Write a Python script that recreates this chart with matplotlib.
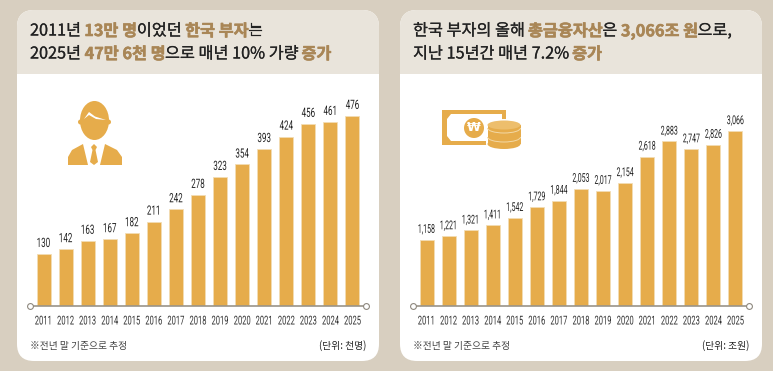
import matplotlib
matplotlib.use("Agg")
import matplotlib.pyplot as plt
import matplotlib.patheffects as pe
from matplotlib.patches import FancyBboxPatch, Rectangle, Ellipse, Polygon, Circle, Arc
from matplotlib.transforms import Affine2D

plt.rcParams["font.family"] = ["Noto Sans CJK KR", "DejaVu Sans"]

years = ["2011", "2012", "2013", "2014", "2015", "2016", "2017", "2018", "2019", "2020", "2021", "2022", "2023", "2024", "2025"]
rich_people = [130, 142, 163, 167, 182, 211, 242, 278, 323, 354, 393, 424, 456, 461, 476]
total_assets = [1158, 1221, 1321, 1411, 1542, 1729, 1844, 2053, 2017, 2154, 2618, 2883, 2747, 2826, 3066]

left_title = [
    [("2011년 ", 0), ("13만 명", 1), ("이었던 ", 0), ("한국 부자", 1), ("는", 0)],
    [("2025년 ", 0), ("47만 6천 명", 1), ("으로 매년 10% 가량 ", 0), ("증가", 1)],
]
right_title = [
    [("한국 부자의 올해 ", 0), ("총금융자산", 1), ("은 ", 0), ("3,066조 원", 1), ("으로,", 0)],
    [("지난 15년간 매년 7.2% ", 0), ("증가", 1)],
]
note = "※전년 말 기준으로 추정"
left_unit = "(단위: 천명)"
right_unit = "(단위: 조원)"

W, H = 773, 371
BG = "#D8CFC0"
HEAD = "#E9E4DB"
ACCENT = "#A98656"
BAR = "#E6AC4B"
DARK = "#222222"


class Narrow(pe.AbstractPathEffect):
    # 원본 숫자가 장체라서 글자 중심 기준으로 좁고 길게 그린다
    def __init__(self, sx, sy):
        super().__init__()
        self.sx = sx
        self.sy = sy

    def draw_path(self, renderer, gc, tpath, affine, rgbFace=None):
        xs = tpath.vertices[:, 0]
        cx = (xs.min() + xs.max()) / 2
        squeeze = Affine2D().translate(-cx, 0).scale(self.sx, self.sy).translate(cx, 0)
        renderer.draw_path(gc, tpath, squeeze + affine, rgbFace)


fig = plt.figure(figsize=(W / 100, H / 100), dpi=100, facecolor=BG)
bg = fig.add_axes([0, 0, 1, 1])
bg.set_xlim(0, W)
bg.set_ylim(H, 0)
bg.axis("off")


def card(x0, x1):
    box = FancyBboxPatch((x0 + 17, 10 + 17), x1 - x0 - 34, 351 - 34,
                         boxstyle="round,pad=17,rounding_size=17", fc="white", ec="none")
    bg.add_patch(box)
    head = Rectangle((x0, 10), x1 - x0, 64, fc=HEAD, ec="none")
    bg.add_patch(head)
    head.set_clip_path(box)


def title(x, y, parts):
    # 조각별로 폭을 재서 이어 붙인다
    r = fig.canvas.get_renderer()
    for s, hi in parts:
        color = ACCENT if hi else DARK
        t = bg.text(x, y, s, fontsize=11.7, va="center", ha="left", color=color,
                    fontweight="bold" if hi else "normal")
        t.set_path_effects([pe.withStroke(linewidth=0.4 if hi else 0.15, foreground=color)])
        x += t.get_window_extent(r).width


def bars(x0, x1, values, ymax, label_size, label_fx):
    ax = fig.add_axes([x0 / W, 1 - 305.7 / H, (x1 - x0) / W, 205.7 / H])
    ax.patch.set_alpha(0)
    idx = list(range(len(values)))
    b = ax.bar(idx, values, width=14 / 22.07, color=BAR, edgecolor="#F3DDB4", linewidth=0.6)
    ax.bar_label(b, labels=[f"{v:,}" for v in values], padding=3.5, fontsize=label_size, color=DARK,
                 family=["Roboto"], path_effects=[label_fx])
    ax.set_xlim(-13.5 / 22.07, 14 + 13.5 / 22.07)
    ax.set_ylim(0, ymax)
    ax.set_yticks([])
    ax.set_xticks(idx)
    ax.set_xticklabels(years, fontsize=6.8, color="#333333", family=["Roboto"],
                       path_effects=[Narrow(0.8, 1.3)])
    ax.tick_params(axis="x", length=0, pad=8.5)
    for s in ["top", "left", "right"]:
        ax.spines[s].set_visible(False)
    ax.spines["bottom"].set_color("#9A9489")
    ax.spines["bottom"].set_linewidth(1.2)
    ax.plot([0, 1], [0, 0], transform=ax.transAxes, ls="none", marker="o", ms=4.2,
            mfc="white", mec="#8E887E", mew=0.8, clip_on=False, zorder=5)
    return ax


def person():
    bg.add_patch(Polygon([(68, 165), (68, 157), (72, 150), (83, 144), (88, 165)], fc=BAR, ec="none"))
    bg.add_patch(Polygon([(122, 165), (122, 157), (117, 150), (105, 144), (100, 165)], fc=BAR, ec="none"))
    bg.add_patch(Polygon([(94, 144), (97, 147), (95.5, 150), (98, 162), (94, 165), (90, 162), (92.5, 150), (91, 147)],
                         fc=BAR, ec="none"))
    bg.add_patch(Ellipse((94.5, 120.5), 29, 39, fc=BAR, ec="none"))
    bg.add_patch(Circle((80.5, 122), 2.5, fc=BAR, ec="none"))
    bg.add_patch(Circle((108.5, 122), 2.5, fc=BAR, ec="none"))
    bg.add_patch(Polygon([(84, 119), (89, 112), (95, 116.5), (106, 120), (96, 119), (89, 115)], fc="white", ec="none"))


def money():
    bg.add_patch(Rectangle((442, 110), 64, 35, fc=BAR, ec="none"))
    bg.add_patch(Polygon([(447, 119), (451, 114), (502, 114), (502, 141), (451, 141), (447, 136)], fc="white", ec="none"))
    bg.add_patch(Circle((474, 128), 10, fc=BAR, ec="none"))
    bg.text(474, 127.5, "₩", color="white", fontsize=9, fontweight="bold", ha="center", va="center",
            family=["DejaVu Sans"])
    # 동전 더미
    bg.add_patch(Ellipse((504, 125), 36, 12, fc="white", ec="none"))
    bg.add_patch(Ellipse((504, 144), 36, 12, fc="white", ec="none"))
    bg.add_patch(Rectangle((486, 125), 36, 19, fc="white", ec="none"))
    bg.add_patch(Ellipse((504, 144), 33, 10, fc=BAR, ec="none"))
    bg.add_patch(Rectangle((487.5, 125), 33, 19, fc=BAR, ec="none"))
    for cy in (128, 137):
        bg.add_patch(Arc((504, cy), 33, 10, theta1=0, theta2=180, ec="#F3D9A6", lw=0.7))
    bg.add_patch(Ellipse((504, 125), 33, 9, fc="#EDBE6C", ec="none"))


card(17, 379)
card(400, 762)
fig.canvas.draw()
title(30, 31, left_title[0])
title(30, 54, left_title[1])
title(413, 31, right_title[0])
title(413, 54, right_title[1])

person()
money()
bars(30, 366, rich_people, 205.7 / 0.399, 7.4, Narrow(0.78, 1.25))
bars(413, 749, total_assets, 205.7 / 0.05698, 6.3, Narrow(0.8, 1.4))

for x, unit, ux in [(30, left_unit, 366), (413, right_unit, 749)]:
    bg.text(x, 346, note, fontsize=7, color="#444444", va="center", ha="left")
    bg.text(ux, 346, unit, fontsize=7, color="#222222", va="center", ha="right")

fig.savefig("out.png", dpi=100, facecolor=BG)
